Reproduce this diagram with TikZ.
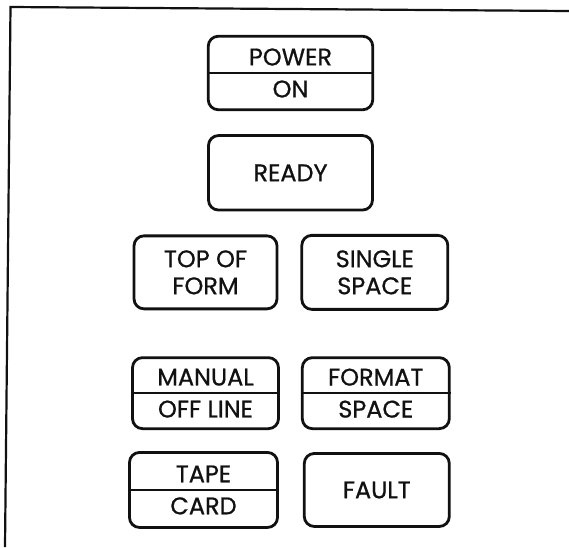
\documentclass[tikz,border=0pt]{standalone}
\usepackage{fontspec}
\setmainfont{Poppins}[FakeBold=0.8]
\usetikzlibrary{positioning}
\definecolor{cInk}{HTML}{111111}

\begin{document}
\begin{tikzpicture}[x=1pt,y=-1pt,
  key/.style={draw=cInk,line width=2.8pt,rounded corners=10pt,align=center,minimum width=146pt,minimum height=73pt,inner sep=0pt,text=cInk,font=\fontsize{24}{27}\selectfont},
  twin/.style={key,font=\fontsize{24}{32}\selectfont},
  divider/.style={draw=cInk,line width=2.2pt}]
  \useasboundingbox (0,0) rectangle (569,547);
  % panel frame, open at right and bottom
  \draw[cInk,line width=2.2pt] (569,11) -- (10.5,7) -- (5,547);
  \node[twin, minimum width=164.5pt, minimum height=73.5pt] (pwr) at (290.5,73) {POWER\\ON};
  \node[key, minimum width=164pt, minimum height=74.5pt, below=23pt of pwr] (rdy) {READY};
  \node[key, minimum width=143pt, below=23pt of rdy.south, xshift=-85pt] (tof) {TOP OF\\FORM};
  \node[key, minimum height=74pt, right=22pt of tof] (ssp) {SINGLE\\SPACE};
  \node[twin, minimum height=71pt, below=46pt of tof] (man) {MANUAL\\OFF LINE};
  \node[twin, minimum width=147pt, minimum height=71pt, right=21pt of man] (fmt) {FORMAT\\SPACE};
  \node[twin, minimum width=148pt, minimum height=75pt, below=21pt of man, xshift=-2pt] (tape) {TAPE\\CARD};
  \node[key, minimum width=145pt, right=24pt of tape] (flt) {FAULT};
  \draw[divider] (pwr.west) -- (pwr.east); \draw[divider] (man.west) -- (man.east); \draw[divider] (fmt.west) -- (fmt.east); \draw[divider] (tape.west) -- (tape.east);
\end{tikzpicture}
\end{document}
